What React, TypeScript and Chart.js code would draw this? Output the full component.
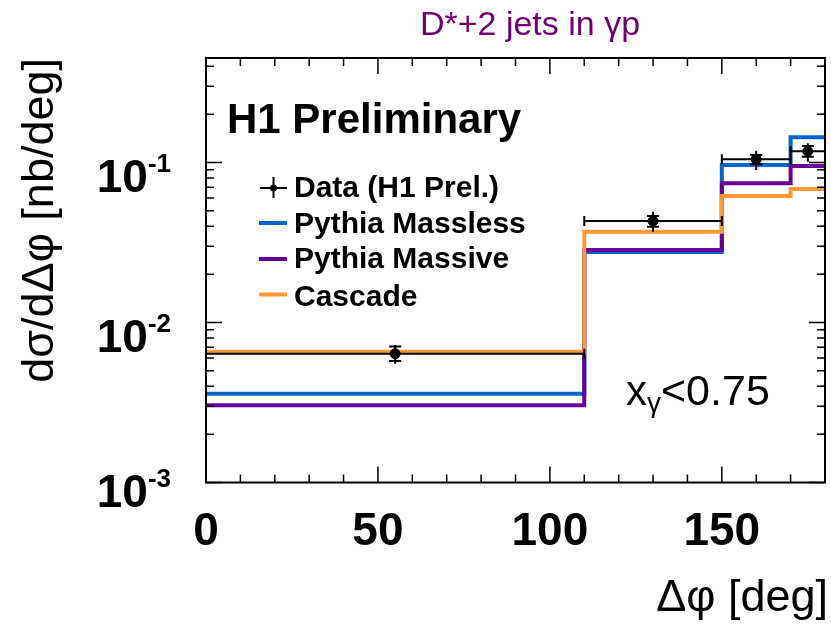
import React, { useEffect, useRef } from "react";
import { Chart, registerables } from "chart.js";

Chart.register(...registerables);

// ---- data ----
const binEdges = [0, 110, 150, 170, 180];
const dataX = [55, 130, 160, 175];
const dataY = [0.00638, 0.0431, 0.1047, 0.1175];
const statUp = [0.00707, 0.04634, 0.1114, 0.1267];
const statDown = [0.00575, 0.0397, 0.0975, 0.1087];
const totUp = [0.00724, 0.04927, 0.1186, 0.1318];
const totDown = [0.00552, 0.03694, 0.0898, 0.1012];
const masslessY = [0.00359, 0.0276, 0.0965, 0.1437];
const massiveY = [0.00304, 0.0284, 0.0741, 0.0951];
const cascadeY = [0.00657, 0.03694, 0.0618, 0.0683];
const xTicks = [0, 50, 100, 150];
const xMinorStep = 10;
const yTickExps = [-3, -2, -1];
const legendLabels = ["Data (H1 Prel.)", "Pythia Massless", "Pythia Massive", "Cascade"];
const titleText = "D*+2 jets in γp";
const xTitle = "Δφ [deg]";
const yTitle = "dσ/dΔφ [nb/deg]";
const prelimText = "H1 Preliminary";
const cutLabelMain = "x";
const cutLabelSub = "γ";
const cutLabelRest = "<0.75";

const BLUE = "rgb(0,102,204)";
const PURPLE = "rgb(102,0,153)";
const ORANGE = "rgb(255,153,51)";
const TITLE_PURPLE = "rgb(110,0,110)";
const FONT = '"Liberation Sans", Arial, Helvetica, sans-serif';

function stepPoints(vals: number[]) {
  const pts = vals.map((v, i) => ({ x: binEdges[i], y: v }));
  pts.push({ x: binEdges[binEdges.length - 1], y: vals[vals.length - 1] });
  return pts;
}

const decoPlugin = {
  id: "h1deco",
  afterDatasetsDraw(chart: any) {
    const ctx = chart.ctx;
    const xs = chart.scales.x;
    const ys = chart.scales.y;
    ctx.save();
    ctx.strokeStyle = "#000";
    ctx.lineWidth = 2;
    for (let i = 0; i < dataX.length; i++) {
      const px = xs.getPixelForValue(dataX[i]);
      const py = ys.getPixelForValue(dataY[i]);
      const xl = xs.getPixelForValue(binEdges[i]);
      const xr = xs.getPixelForValue(binEdges[i + 1]);
      ctx.beginPath();
      ctx.moveTo(xl, py);
      ctx.lineTo(xr, py);
      ctx.moveTo(xl, py - 5);
      ctx.lineTo(xl, py + 5);
      if (binEdges[i + 1] < 180) {
        ctx.moveTo(xr, py - 5);
        ctx.lineTo(xr, py + 5);
      }
      ctx.moveTo(px, ys.getPixelForValue(totUp[i]));
      ctx.lineTo(px, ys.getPixelForValue(totDown[i]));
      const su = ys.getPixelForValue(statUp[i]);
      const sd = ys.getPixelForValue(statDown[i]);
      ctx.moveTo(px - 6, su);
      ctx.lineTo(px + 6, su);
      ctx.moveTo(px - 6, sd);
      ctx.lineTo(px + 6, sd);
      ctx.stroke();
    }
    ctx.restore();
  },
  afterDraw(chart: any) {
    const ctx = chart.ctx;
    const xs = chart.scales.x;
    const ys = chart.scales.y;
    const a = chart.chartArea;
    ctx.save();
    ctx.strokeStyle = "#000";
    ctx.lineWidth = 2;
    ctx.strokeRect(a.left, a.top, a.right - a.left, a.bottom - a.top);
    ctx.lineWidth = 1.5;
    ctx.beginPath();
    for (let v = 0; v <= 180; v += xMinorStep) {
      const px = xs.getPixelForValue(v);
      const len = xTicks.includes(v) ? 16 : 8;
      ctx.moveTo(px, a.bottom);
      ctx.lineTo(px, a.bottom - len);
      ctx.moveTo(px, a.top);
      ctx.lineTo(px, a.top + len);
    }
    const ymax = ys.max;
    for (const e of yTickExps) {
      for (let k = 1; k <= 9; k++) {
        const v = k * Math.pow(10, e);
        if (v > ymax) continue;
        const py = ys.getPixelForValue(v);
        const len = k === 1 ? 16 : 8;
        ctx.moveTo(a.left, py);
        ctx.lineTo(a.left + len, py);
        ctx.moveTo(a.right, py);
        ctx.lineTo(a.right - len, py);
      }
    }
    ctx.stroke();

    ctx.fillStyle = "#000";
    ctx.font = `bold 46px ${FONT}`;
    ctx.textAlign = "center";
    ctx.textBaseline = "alphabetic";
    for (const v of xTicks) {
      ctx.fillText(String(v), xs.getPixelForValue(v), 545);
    }
    for (const e of yTickExps) {
      const py = ys.getPixelForValue(Math.pow(10, e)) + (e === yTickExps[0] ? -5 : 0);
      const sup = String(e);
      ctx.font = `bold 26px ${FONT}`;
      const ws = ctx.measureText(sup).width;
      ctx.font = `bold 46px ${FONT}`;
      const wb = ctx.measureText("10").width;
      const R = 171;
      ctx.textAlign = "left";
      ctx.fillText("10", R - ws - wb, py + 29);
      ctx.font = `bold 26px ${FONT}`;
      ctx.fillText(sup, R - ws, py + 9.5);
    }
    ctx.font = `45px ${FONT}`;
    ctx.textAlign = "right";
    ctx.fillText(xTitle, 828, 611);
    ctx.save();
    ctx.translate(53, a.top);
    ctx.rotate(-Math.PI / 2);
    ctx.font = `45px ${FONT}`;
    ctx.textAlign = "right";
    ctx.fillText(yTitle, 0, 0);
    ctx.restore();

    ctx.fillStyle = TITLE_PURPLE;
    ctx.font = `34px ${FONT}`;
    ctx.textAlign = "center";
    ctx.fillText(titleText, 530, 35);

    ctx.fillStyle = "#000";
    ctx.textAlign = "left";
    ctx.font = `bold 42px ${FONT}`;
    ctx.fillText(prelimText, 227, 133);

    const baselines = [197, 232.5, 268, 305.5];
    const lineYs = [188, 223, 259, 294.5];
    ctx.font = `bold 30px ${FONT}`;
    for (let i = 0; i < legendLabels.length; i++) {
      ctx.fillStyle = "#000";
      ctx.fillText(legendLabels[i], 294, baselines[i]);
    }
    ctx.strokeStyle = "#000";
    ctx.lineWidth = 2;
    ctx.beginPath();
    ctx.moveTo(260, lineYs[0]);
    ctx.lineTo(287, lineYs[0]);
    ctx.moveTo(273.5, lineYs[0] - 11);
    ctx.lineTo(273.5, lineYs[0] + 10);
    ctx.stroke();
    ctx.beginPath();
    ctx.arc(273.5, lineYs[0], 3.5, 0, Math.PI * 2);
    ctx.fill();
    const cols = [BLUE, PURPLE, ORANGE];
    ctx.lineWidth = 4;
    for (let i = 0; i < 3; i++) {
      ctx.strokeStyle = cols[i];
      ctx.beginPath();
      ctx.moveTo(259, lineYs[i + 1]);
      ctx.lineTo(287, lineYs[i + 1]);
      ctx.stroke();
    }

    ctx.fillStyle = "#000";
    ctx.font = `42px ${FONT}`;
    ctx.textAlign = "left";
    let cx = 626;
    ctx.fillText(cutLabelMain, cx, 405);
    cx += ctx.measureText(cutLabelMain).width;
    ctx.font = `28px ${FONT}`;
    ctx.fillText(cutLabelSub, cx, 412);
    cx += ctx.measureText(cutLabelSub).width;
    ctx.font = `43px ${FONT}`;
    ctx.fillText(cutLabelRest, cx, 405);

    ctx.restore();
  },
};

export default function App() {
  const ref = useRef<HTMLCanvasElement | null>(null);
  useEffect(() => {
    document.body.style.margin = "0";
    const canvas = ref.current;
    if (!canvas) return;
    const chart = new Chart(canvas, {
      type: "line",
      data: {
        datasets: [
          {
            type: "scatter",
            label: legendLabels[0],
            data: dataX.map((x, i) => ({ x, y: dataY[i] })),
            pointRadius: 5,
            pointBackgroundColor: "#000",
            pointBorderColor: "#000",
            showLine: false,
          } as any,
          {
            label: legendLabels[3],
            data: stepPoints(cascadeY),
            borderColor: ORANGE,
            borderWidth: 4,
            pointRadius: 0,
            stepped: true,
            fill: false,
          },
          {
            label: legendLabels[2],
            data: stepPoints(massiveY),
            borderColor: PURPLE,
            borderWidth: 4,
            pointRadius: 0,
            stepped: true,
            fill: false,
          },
          {
            label: legendLabels[1],
            data: stepPoints(masslessY),
            borderColor: BLUE,
            borderWidth: 4,
            pointRadius: 0,
            stepped: true,
            fill: false,
          },
        ],
      },
      options: {
        animation: false,
        responsive: false,
        maintainAspectRatio: false,
        devicePixelRatio: 1,
        layout: { padding: { left: 206, top: 58, right: 2, bottom: 141.5 } },
        plugins: { legend: { display: false }, tooltip: { enabled: false }, title: { display: false } },
        scales: {
          x: { type: "linear", min: 0, max: 180, display: false },
          y: { type: "logarithmic", min: 0.001, max: 0.45, display: false },
        },
      },
      plugins: [decoPlugin],
    });
    return () => chart.destroy();
  }, []);
  return (
    <div style={{ width: 831, height: 624, background: "#fff" }}>
      <canvas ref={ref} width={831} height={624} style={{ display: "block", width: 831, height: 624 }} />
    </div>
  );
}
